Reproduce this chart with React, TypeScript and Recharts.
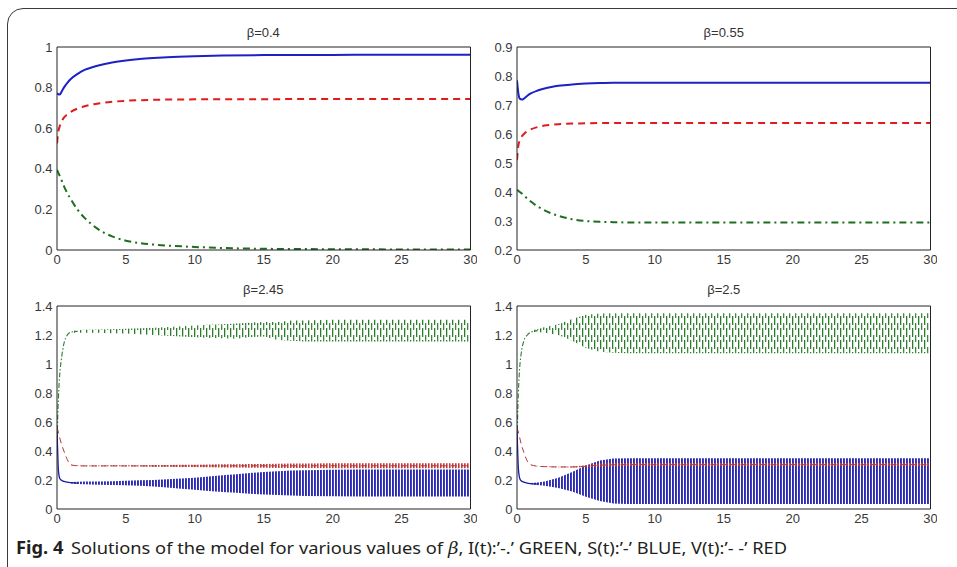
import { ComposedChart, Line, Area, XAxis, YAxis } from 'recharts';

// ---- time grids ----
const T_TOP = [0, 0.1, 0.2, 0.35, 0.5, 0.75, 1, 1.5, 2, 2.5, 3, 4, 5, 6, 7, 8, 10, 12, 15, 20, 25, 30];
const T_EARLY = [0, 0.05, 0.1, 0.2, 0.3, 0.5, 0.75, 1, 1.5];
const T_BAND = [1, 1.5, 2, 3, 4, 5, 6, 7, 8, 9, 10, 11, 12, 13, 14, 15, 16, 17, 18, 20, 22, 25, 28, 30];
const T_LONG = [0, 0.05, 0.1, 0.2, 0.3, 0.5, 0.75, 1, 1.5, 2, 3, 4, 5, 6, 7, 8, 10, 15, 20, 25, 30];

// ---- beta = 0.4 ----
const S_040 = [0.772, 0.767, 0.766, 0.782, 0.8, 0.823, 0.842, 0.868, 0.887, 0.899, 0.909, 0.924, 0.934, 0.941, 0.946, 0.95, 0.955, 0.958, 0.96, 0.961, 0.962, 0.962];
const V_040 = [0.525, 0.585, 0.61, 0.635, 0.652, 0.668, 0.68, 0.697, 0.708, 0.716, 0.722, 0.73, 0.735, 0.738, 0.74, 0.741, 0.742, 0.743, 0.743, 0.744, 0.744, 0.744];
const I_040 = [0.395, 0.38, 0.365, 0.34, 0.315, 0.28, 0.25, 0.198, 0.158, 0.127, 0.102, 0.067, 0.046, 0.034, 0.027, 0.022, 0.015, 0.01, 0.006, 0.004, 0.003, 0.003];

// ---- beta = 0.55 ----
const S_055 = [0.785, 0.74, 0.722, 0.719, 0.722, 0.732, 0.74, 0.75, 0.757, 0.762, 0.766, 0.771, 0.774, 0.776, 0.777, 0.777, 0.777, 0.777, 0.777, 0.777, 0.777, 0.777];
const V_055 = [0.51, 0.56, 0.578, 0.592, 0.6, 0.61, 0.616, 0.624, 0.629, 0.632, 0.634, 0.636, 0.637, 0.638, 0.638, 0.638, 0.638, 0.638, 0.638, 0.638, 0.638, 0.638];
const I_055 = [0.408, 0.404, 0.4, 0.395, 0.388, 0.377, 0.367, 0.35, 0.337, 0.326, 0.318, 0.306, 0.3, 0.297, 0.296, 0.295, 0.295, 0.295, 0.295, 0.295, 0.295, 0.295];

// ---- beta = 2.45 (oscillating: early path + envelope of the oscillation) ----
const I_245 = [0.4, 0.62, 0.76, 0.93, 1.02, 1.14, 1.2, 1.22, 1.225];
const I_245_LO = [1.215, 1.215, 1.215, 1.215, 1.212, 1.21, 1.205, 1.2, 1.195, 1.19, 1.185, 1.18, 1.178, 1.175, 1.185, 1.19, 1.165, 1.16, 1.155, 1.155, 1.155, 1.155, 1.155, 1.155];
const I_245_HI = [1.228, 1.232, 1.236, 1.238, 1.24, 1.243, 1.246, 1.25, 1.255, 1.26, 1.265, 1.27, 1.275, 1.28, 1.285, 1.29, 1.29, 1.3, 1.3, 1.305, 1.305, 1.305, 1.305, 1.305];
const S_245 = [0.55, 0.4, 0.27, 0.21, 0.2, 0.19, 0.185, 0.182, 0.178];
const S_245_LO = [0.176, 0.172, 0.17, 0.168, 0.166, 0.164, 0.16, 0.155, 0.148, 0.14, 0.132, 0.125, 0.118, 0.112, 0.106, 0.1, 0.096, 0.093, 0.09, 0.088, 0.087, 0.087, 0.087, 0.087];
const S_245_HI = [0.186, 0.188, 0.19, 0.19, 0.192, 0.195, 0.198, 0.2, 0.205, 0.21, 0.215, 0.225, 0.232, 0.24, 0.248, 0.255, 0.26, 0.265, 0.268, 0.27, 0.272, 0.272, 0.272, 0.272];
const V_245 = [0.56, 0.545, 0.53, 0.49, 0.455, 0.4, 0.34, 0.305, 0.298, 0.297, 0.297, 0.297, 0.297, 0.297, 0.297, 0.297, 0.297, 0.298, 0.298, 0.298, 0.298];
const V_245_LO = [0.298, 0.296, 0.295, 0.295, 0.294, 0.294, 0.293, 0.292, 0.291, 0.29, 0.289, 0.288, 0.287, 0.286, 0.285, 0.284, 0.283, 0.282, 0.282, 0.281, 0.281, 0.281, 0.281, 0.281];
const V_245_HI = [0.3, 0.3, 0.3, 0.3, 0.301, 0.301, 0.302, 0.303, 0.304, 0.305, 0.306, 0.307, 0.308, 0.309, 0.31, 0.311, 0.312, 0.313, 0.314, 0.315, 0.315, 0.315, 0.315, 0.315];

// ---- beta = 2.5 ----
const I_250 = [0.4, 0.65, 0.8, 0.98, 1.07, 1.16, 1.2, 1.22, 1.23];
const I_250_LO = [1.22, 1.22, 1.215, 1.2, 1.16, 1.11, 1.085, 1.077, 1.075, 1.075, 1.075, 1.075, 1.075, 1.075, 1.075, 1.075, 1.075, 1.075, 1.075, 1.075, 1.075, 1.075, 1.075, 1.075];
const I_250_HI = [1.232, 1.24, 1.255, 1.275, 1.31, 1.34, 1.348, 1.35, 1.35, 1.35, 1.35, 1.35, 1.35, 1.35, 1.35, 1.35, 1.35, 1.35, 1.35, 1.35, 1.35, 1.35, 1.35, 1.35];
const S_250 = [0.55, 0.4, 0.28, 0.21, 0.195, 0.185, 0.178, 0.175, 0.172];
const S_250_LO = [0.17, 0.165, 0.16, 0.145, 0.12, 0.085, 0.055, 0.038, 0.034, 0.034, 0.034, 0.034, 0.034, 0.034, 0.034, 0.034, 0.034, 0.034, 0.034, 0.034, 0.034, 0.034, 0.034, 0.034];
const S_250_HI = [0.18, 0.182, 0.19, 0.215, 0.255, 0.3, 0.335, 0.348, 0.35, 0.35, 0.35, 0.35, 0.35, 0.35, 0.35, 0.35, 0.35, 0.35, 0.35, 0.35, 0.35, 0.35, 0.35, 0.35];
const V_250 = [0.56, 0.545, 0.53, 0.49, 0.45, 0.39, 0.33, 0.305, 0.295, 0.292, 0.29, 0.29, 0.295, 0.302, 0.305, 0.306, 0.306, 0.306, 0.306, 0.306, 0.306];
const V_250_LO = [0.303, 0.294, 0.29, 0.288, 0.287, 0.288, 0.292, 0.295, 0.296, 0.296, 0.296, 0.296, 0.296, 0.296, 0.296, 0.296, 0.296, 0.296, 0.296, 0.296, 0.296, 0.296, 0.296, 0.296];
const V_250_HI = [0.306, 0.297, 0.294, 0.292, 0.293, 0.302, 0.313, 0.317, 0.318, 0.318, 0.318, 0.318, 0.318, 0.318, 0.318, 0.318, 0.318, 0.318, 0.318, 0.318, 0.318, 0.318, 0.318, 0.318];

// ---- ticks ----
const X_TICKS = [0, 5, 10, 15, 20, 25, 30];
const Y_TICKS_040 = [0, 0.2, 0.4, 0.6, 0.8, 1];
const Y_TICKS_055 = [0.2, 0.3, 0.4, 0.5, 0.6, 0.7, 0.8, 0.9];
const Y_TICKS_OSC = [0, 0.2, 0.4, 0.6, 0.8, 1, 1.2, 1.4];

const AX = '#222';
const LABEL_FONT = '"Liberation Sans", Arial, sans-serif';
const BLUE = '#1c22c4';
const RED = '#e01b1b';
const GREEN = '#1f6e1f';

const W = 460;
const H = 235;
const MARGIN = { top: 7, right: 6.5, left: 0, bottom: 0 };

const pts = (t: number[], v: number[]) => t.map((x, i) => ({ t: x, v: v[i] }));
const band = (t: number[], lo: number[], hi: number[]) => t.map((x, i) => ({ t: x, r: [lo[i], hi[i]] }));

const topRows = (s: number[], v: number[], i: number[]) =>
  T_TOP.map((t, k) => ({ t, s: s[k], v: v[k], i: i[k] }));

// box with inward ticks on all four sides, labels only on left and bottom
function axes(domain: [number, number], yTicks: number[]) {
  const label = { fill: '#383838', fontSize: 13, fontFamily: LABEL_FONT };
  return [
    <XAxis key="xb" xAxisId="b" type="number" dataKey="t" domain={[0, 30]} ticks={X_TICKS} interval={0}
      tickLine={false} tickSize={4} tickMargin={1} height={25} axisLine={{ stroke: AX }} tick={label} allowDataOverflow />,
    <XAxis key="xbm" xAxisId="bm" type="number" dataKey="t" domain={[0, 30]} ticks={X_TICKS} interval={0}
      mirror tick={false} tickSize={4} tickLine={{ stroke: AX }} axisLine={false} allowDataOverflow />,
    <XAxis key="xt" xAxisId="t" orientation="top" type="number" dataKey="t" domain={[0, 30]} ticks={X_TICKS} interval={0}
      mirror tick={false} tickSize={4} tickLine={{ stroke: AX }} axisLine={{ stroke: AX }} allowDataOverflow />,
    <YAxis key="yl" yAxisId="l" type="number" domain={domain} ticks={yTicks} interval={0} width={40}
      tickLine={false} tickSize={4} tickMargin={0.5} axisLine={{ stroke: AX }} tick={label}
      tickFormatter={(v: number) => String(v)} allowDataOverflow />,
    <YAxis key="ylm" yAxisId="lm" type="number" domain={domain} ticks={yTicks} interval={0}
      mirror tick={false} tickSize={4} tickLine={{ stroke: AX }} axisLine={false} allowDataOverflow />,
    <YAxis key="yr" yAxisId="r" orientation="right" type="number" domain={domain} ticks={yTicks} interval={0}
      mirror tick={false} tickSize={4} tickLine={{ stroke: AX }} axisLine={{ stroke: AX }} allowDataOverflow />,
  ];
}

function SteadyPanel({ s, v, i, domain, yTicks }: { s: number[]; v: number[]; i: number[]; domain: [number, number]; yTicks: number[] }) {
  const rows = topRows(s, v, i);
  return (
    <ComposedChart width={W} height={H} data={rows} margin={MARGIN}>
      {axes(domain, yTicks)}
      <Line xAxisId="b" yAxisId="l" dataKey="i" stroke={GREEN} strokeWidth={2} strokeDasharray="7 4 2 4"
        dot={false} isAnimationActive={false} type="monotone" />
      <Line xAxisId="b" yAxisId="l" dataKey="s" stroke={BLUE} strokeWidth={2}
        dot={false} isAnimationActive={false} type="monotone" />
      <Line xAxisId="b" yAxisId="l" dataKey="v" stroke={RED} strokeWidth={2} strokeDasharray="7 5"
        dot={false} isAnimationActive={false} type="monotone" />
    </ComposedChart>
  );
}

type OscProps = {
  id: string;
  i: number[]; iLo: number[]; iHi: number[];
  s: number[]; sLo: number[]; sHi: number[];
  v: number[]; vLo: number[]; vHi: number[];
};

function OscPanel(p: OscProps) {
  const iBand = band(T_BAND, p.iLo, p.iHi);
  const sBand = band(T_BAND, p.sLo, p.sHi);
  const vBand = band(T_BAND, p.vLo, p.vHi);
  return (
    <ComposedChart width={W} height={H} data={iBand} margin={MARGIN}>
      <defs>
        <pattern id={`${p.id}-g`} patternUnits="userSpaceOnUse" width={6} height={12}>
          <rect x={0} y={0} width={1.3} height={7} fill="#3a8a3a" />
          <rect x={3} y={5} width={1.3} height={7} fill="#2c7a2c" />
          <rect x={3} y={0} width={1.3} height={2} fill="#2c7a2c" />
        </pattern>
        <pattern id={`${p.id}-b`} patternUnits="userSpaceOnUse" width={3} height={10}>
          <rect x={0} y={0} width={1.9} height={10} fill="#2a2ab4" />
        </pattern>
        <pattern id={`${p.id}-r`} patternUnits="userSpaceOnUse" width={3} height={4}>
          <rect x={0} y={0} width={1.6} height={4} fill="#c03838" />
        </pattern>
      </defs>
      {axes([0, 1.4], Y_TICKS_OSC)}
      <Area xAxisId="b" yAxisId="l" data={iBand} dataKey="r" stroke="none" fill={`url(#${p.id}-g)`} fillOpacity={1}
        isAnimationActive={false} type="linear" />
      <Line xAxisId="b" yAxisId="l" data={pts(T_EARLY, p.i)} dataKey="v" stroke="#2e7d2e" strokeWidth={1.1}
        strokeDasharray="5 2 1.5 2" dot={false} isAnimationActive={false} type="monotone" />
      <Area xAxisId="b" yAxisId="l" data={sBand} dataKey="r" stroke="none" fill={`url(#${p.id}-b)`} fillOpacity={1}
        isAnimationActive={false} type="linear" />
      <Line xAxisId="b" yAxisId="l" data={pts(T_EARLY, p.s)} dataKey="v" stroke="#1a1aa8" strokeWidth={1.3}
        dot={false} isAnimationActive={false} type="monotone" />
      <Area xAxisId="b" yAxisId="l" data={vBand} dataKey="r" stroke="none" fill={`url(#${p.id}-r)`} fillOpacity={1}
        isAnimationActive={false} type="linear" />
      <Line xAxisId="b" yAxisId="l" data={pts(T_LONG, p.v)} dataKey="v" stroke="#b03a3a" strokeWidth={1}
        strokeDasharray="6 4" dot={false} isAnimationActive={false} type="monotone" />
    </ComposedChart>
  );
}

const titleStyle = (left: number, top: number): React.CSSProperties => ({
  position: 'absolute', left, top, width: 413.5, textAlign: 'center',
  fontFamily: LABEL_FONT, fontSize: 13, color: '#333', lineHeight: '15px',
});

export default function App() {
  return (
    <div style={{ position: 'absolute', left: 0, top: 0, width: 957, height: 567, background: '#fff', overflow: 'hidden' }}>
      <div style={{ position: 'absolute', left: 7, top: 8, width: 1000, height: 600, border: '1.3px solid #3a3a3a', borderRadius: 16, boxSizing: 'border-box' }} />

      <div style={titleStyle(56.5, 25)}>β=0.4</div>
      <div style={titleStyle(517, 25)}>β=0.55</div>
      <div style={titleStyle(56.5, 282)}>β=2.45</div>
      <div style={titleStyle(517, 282)}>β=2.5</div>

      <div style={{ position: 'absolute', left: 16.5, top: 40 }}>
        <SteadyPanel s={S_040} v={V_040} i={I_040} domain={[0, 1]} yTicks={Y_TICKS_040} />
      </div>
      <div style={{ position: 'absolute', left: 477, top: 40 }}>
        <SteadyPanel s={S_055} v={V_055} i={I_055} domain={[0.2, 0.9]} yTicks={Y_TICKS_055} />
      </div>
      <div style={{ position: 'absolute', left: 16.5, top: 299 }}>
        <OscPanel id="p245" i={I_245} iLo={I_245_LO} iHi={I_245_HI} s={S_245} sLo={S_245_LO} sHi={S_245_HI}
          v={V_245} vLo={V_245_LO} vHi={V_245_HI} />
      </div>
      <div style={{ position: 'absolute', left: 477, top: 299 }}>
        <OscPanel id="p250" i={I_250} iLo={I_250_LO} iHi={I_250_HI} s={S_250} sLo={S_250_LO} sHi={S_250_HI}
          v={V_250} vLo={V_250_LO} vHi={V_250_HI} />
      </div>

      <svg width={957} height={30} style={{ position: 'absolute', left: 0, top: 535 }}>
        <text x={16} y={19} textLength={771} lengthAdjust="spacingAndGlyphs" fontSize={17}
          fontFamily='"Noto Sans", "Open Sans", sans-serif' fill="#231f20">
          <tspan fontWeight={700}>Fig. 4</tspan>
          <tspan dx={7}>Solutions of the model for various values of </tspan>
          <tspan fontStyle="italic" fontFamily='"DejaVu Serif", serif'>β</tspan>
          <tspan>, I(t):’-.’ GREEN, S(t):’-’ BLUE, V(t):’- -’ RED</tspan>
        </text>
      </svg>
    </div>
  );
}
